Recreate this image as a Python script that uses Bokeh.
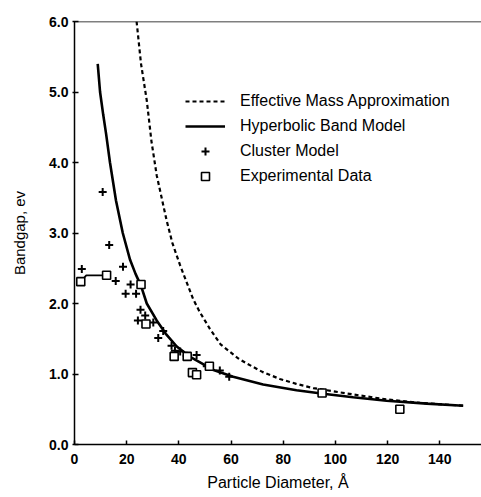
from bokeh.plotting import figure
from bokeh.models import Range1d, Span, Legend, LegendItem, FixedTicker, NumeralTickFormatter
from bokeh.embed import file_html
from bokeh.resources import INLINE

# Effective Mass Approximation (dashed curve)
ema_d = [23.8, 25.5, 27.7, 29.5, 31.5, 35.3, 37.5, 40.4, 43.0, 45.5, 48.0, 51.9, 56.0, 62.8, 66.0, 72.0, 78.7, 85.0, 91.5, 100.0, 106.8, 119.6, 132.4, 149.0]
ema_e = [6.0, 5.4, 4.88, 4.3, 3.82, 3.18, 2.86, 2.55, 2.30, 2.06, 1.88, 1.64, 1.42, 1.22, 1.15, 1.03, 0.93, 0.86, 0.80, 0.75, 0.71, 0.64, 0.59, 0.55]

# Hyperbolic Band Model (solid curve)
hbm_d = [8.9, 9.8, 11.0, 12.1, 13.6, 15.9, 18.5, 21.3, 23.4, 25.5, 27.7, 31.5, 35.0, 39.2, 44.0, 49.3, 53.0, 60.8, 72.3, 85.1, 95.3, 106.8, 119.6, 135.0, 149.0]
hbm_e = [5.40, 5.00, 4.68, 4.41, 4.00, 3.46, 3.00, 2.62, 2.42, 2.25, 2.00, 1.76, 1.57, 1.39, 1.25, 1.14, 1.06, 0.96, 0.85, 0.77, 0.72, 0.67, 0.62, 0.58, 0.55]

# Cluster Model (+)
cl_d = [2.8, 10.8, 13.3, 15.8, 18.6, 19.6, 21.5, 23.6, 24.3, 25.3, 27.1, 30.2, 32.1, 34.0, 37.2, 38.5, 40.5, 43.0, 46.8, 50.7, 55.7, 59.3]
cl_e = [2.49, 3.58, 2.83, 2.32, 2.52, 2.14, 2.27, 2.14, 1.76, 1.91, 1.83, 1.73, 1.51, 1.61, 1.40, 1.33, 1.32, 1.26, 1.27, 1.11, 1.05, 0.96]

# Experimental Data (squares)
ex_d = [2.4, 12.3, 25.5, 27.4, 38.2, 43.2, 45.2, 46.8, 51.7, 94.9, 124.7]
ex_e = [2.31, 2.40, 2.27, 1.71, 1.25, 1.25, 1.02, 0.99, 1.11, 0.73, 0.50]

# short connecting line of the first experimental points
exl_d = [2.4, 4.5, 12.3]
exl_e = [2.31, 2.40, 2.40]

x_ticks = [0, 20, 40, 60, 80, 100, 120, 140]
y_ticks = [0, 1, 2, 3, 4, 5, 6]

FONT = "Liberation Sans"

p = figure(width=481, height=497, output_backend="svg", toolbar_location=None,
           x_range=Range1d(0, 156), y_range=Range1d(0, 6),
           min_border_left=74, min_border_right=0, min_border_top=21, min_border_bottom=53)
p.outline_line_color = None
p.grid.visible = False
p.background_fill_color = "white"
p.border_fill_color = "white"

p.add_layout(Span(location=6, dimension="width", line_color="black", line_width=1.5))

l_ema = p.line(ema_d, ema_e, line_color="black", line_width=2.2, line_dash="4 3")
l_hbm = p.line(hbm_d, hbm_e, line_color="black", line_width=2.6)
p.line(exl_d, exl_e, line_color="black", line_width=1.8)
s_cl = p.scatter(cl_d, cl_e, marker="cross", size=8, line_color="black", line_width=2)
s_ex = p.scatter(ex_d, ex_e, marker="square", size=8, line_color="black", line_width=1.6, fill_color="white")

for ax in (p.xaxis[0], p.yaxis[0]):
    ax.axis_line_color = "black"
    ax.axis_line_width = 1.5
    ax.major_tick_line_color = "black"
    ax.major_tick_line_width = 1.5
    ax.minor_tick_line_color = None
    ax.major_label_text_font = FONT
    ax.major_label_text_font_style = "bold"
    ax.major_label_text_font_size = "14px"
    ax.major_label_text_color = "black"
    ax.axis_label_text_font = FONT
    ax.axis_label_text_font_style = "normal"
    ax.axis_label_text_color = "black"

p.xaxis.axis_label_text_font_size = "16px"
p.yaxis.axis_label_text_font_size = "15px"
p.xaxis.ticker = FixedTicker(ticks=x_ticks)
p.yaxis.ticker = FixedTicker(ticks=y_ticks)
p.yaxis.formatter = NumeralTickFormatter(format="0.0")
p.xaxis.major_tick_in = 4
p.xaxis.major_tick_out = 0
p.yaxis.major_tick_in = 4
p.yaxis.major_tick_out = 2
p.xaxis.major_label_standoff = 9
p.yaxis.major_label_standoff = 4
p.xaxis.axis_label = "Particle Diameter, Å"
p.yaxis.axis_label = "Bandgap, ev"
p.xaxis.axis_label_standoff = 7
p.yaxis.axis_label_standoff = 18

legend = Legend(items=[
    LegendItem(label="Effective Mass Approximation", renderers=[l_ema]),
    LegendItem(label="Hyperbolic Band Model", renderers=[l_hbm]),
    LegendItem(label="Cluster Model", renderers=[s_cl]),
    LegendItem(label="Experimental Data", renderers=[s_ex]),
], location=(111, 258))
legend.border_line_color = None
legend.background_fill_alpha = 0
legend.padding = 0
legend.margin = 0
legend.spacing = 5
legend.glyph_width = 40
legend.glyph_height = 20
legend.label_height = 20
legend.label_standoff = 15
legend.label_text_font = FONT
legend.label_text_font_size = "16px"
legend.label_text_color = "black"
p.add_layout(legend)

open("out.html", "w").write(file_html(p, INLINE))
